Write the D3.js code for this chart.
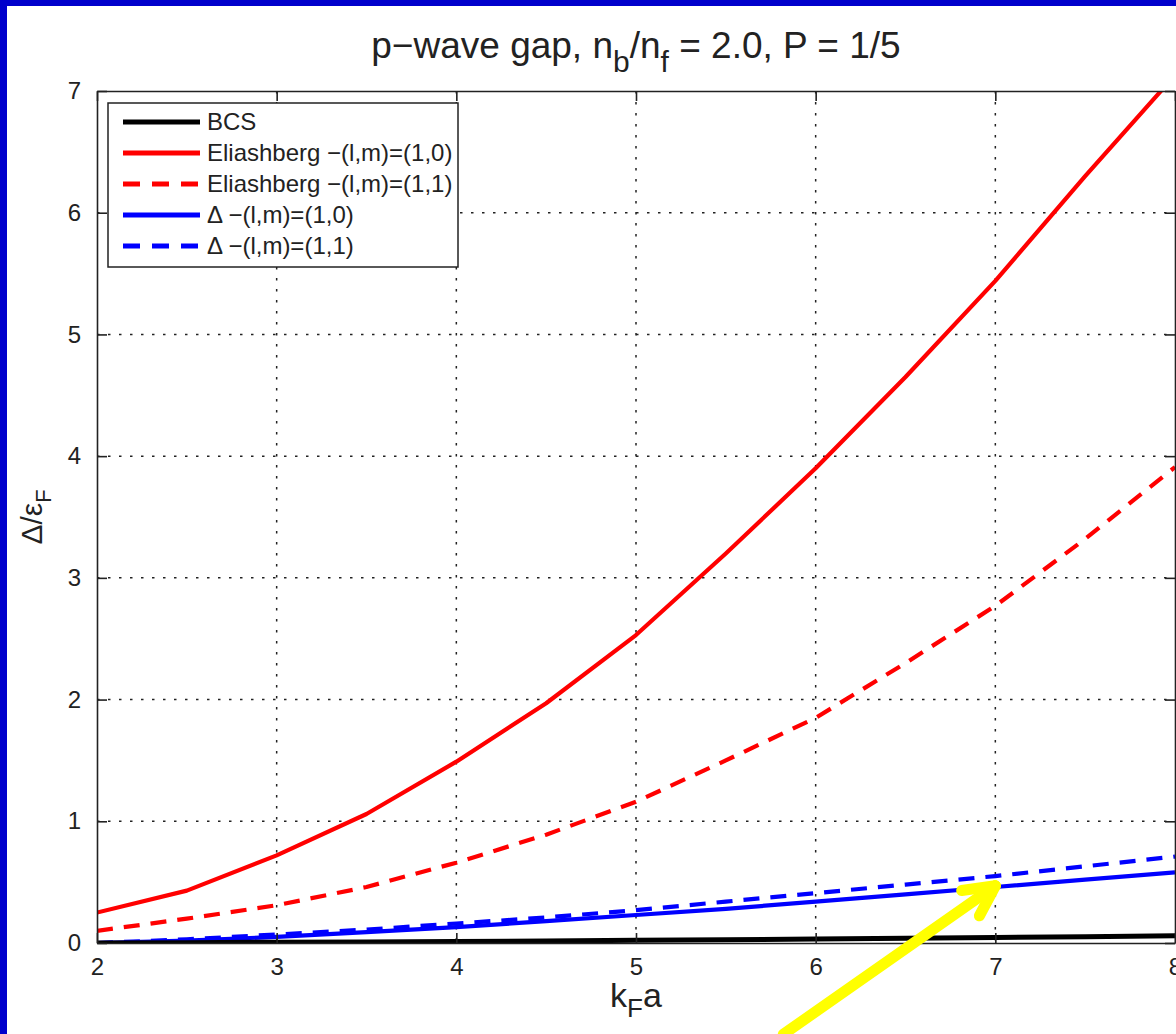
<!DOCTYPE html>
<html>
<head>
<meta charset="utf-8">
<script src="https://cdn.jsdelivr.net/npm/d3@7"></script>
<style>
  html, body { margin: 0; padding: 0; background: #0000CC; }
  svg { display: block; }
  text { font-family: "Liberation Sans", Arial, Helvetica, sans-serif; fill: #222; }
</style>
</head>
<body>
<svg id="chart" width="1176" height="1034"></svg>
<script>
// k_F a sample points
const kFa = [2, 2.5, 3, 3.5, 4, 4.5, 5, 5.5, 6, 6.5, 7, 7.5, 8];

// Gap Δ/ε_F for each calculation
const bcs    = [0, 0.003, 0.006, 0.009, 0.013, 0.017, 0.022, 0.027, 0.033, 0.039, 0.045, 0.052, 0.06];
const eli10  = [0.25, 0.43, 0.72, 1.06, 1.49, 1.97, 2.53, 3.2, 3.9, 4.65, 5.44, 6.3, 7.13];
const eli11  = [0.1, 0.2, 0.31, 0.46, 0.66, 0.89, 1.16, 1.5, 1.85, 2.3, 2.77, 3.32, 3.91];
const del10  = [0, 0.02, 0.05, 0.09, 0.13, 0.18, 0.23, 0.28, 0.34, 0.40, 0.46, 0.52, 0.58];
const del11  = [0, 0.03, 0.07, 0.11, 0.16, 0.21, 0.27, 0.34, 0.41, 0.48, 0.55, 0.63, 0.71];

const seriesNames = ["BCS", "Eliashberg \u2212(l,m)=(1,0)", "Eliashberg \u2212(l,m)=(1,1)",
                     "\u0394 \u2212(l,m)=(1,0)", "\u0394 \u2212(l,m)=(1,1)"];
const seriesValues = [bcs, eli10, eli11, del10, del11];
const seriesColors = ["#000000", "#FF0000", "#FF0000", "#0000FF", "#0000FF"];
const seriesDashed = [false, false, true, false, true];

const xTicks = [2, 3, 4, 5, 6, 7, 8];
const yTicks = [0, 1, 2, 3, 4, 5, 6, 7];

// Highlight arrow pointing at the Δ (1,0) curve at k_F a = 7 (data coordinates)
const arrowTip  = [7.0, 0.47];
const arrowTail = [5.82, -0.75];

const svg = d3.select("#chart");
const W = 1176, H = 1034;

// slide background: blue border, white figure
svg.append("rect").attr("x", 0).attr("y", 0).attr("width", W).attr("height", H).attr("fill", "#0000CC");
svg.append("rect").attr("x", 7).attr("y", 6).attr("width", W - 7).attr("height", H - 6).attr("fill", "#ffffff");

const plot = { left: 97, right: 1175, top: 91, bottom: 943 };
const x = d3.scaleLinear().domain([2, 8]).range([plot.left, plot.right]);
const y = d3.scaleLinear().domain([0, 7]).range([plot.bottom, plot.top]);

svg.append("clipPath").attr("id", "plotClip")
  .append("rect").attr("x", plot.left).attr("y", plot.top)
  .attr("width", plot.right - plot.left).attr("height", plot.bottom - plot.top);

// dotted grid
const grid = svg.append("g").attr("stroke", "#222").attr("stroke-width", 1.5)
  .attr("stroke-dasharray", "2.5,8.5").attr("fill", "none");
xTicks.slice(1, -1).forEach(t => {
  grid.append("line").attr("x1", x(t)).attr("x2", x(t)).attr("y1", plot.top).attr("y2", plot.bottom);
});
yTicks.slice(1, -1).forEach(t => {
  grid.append("line").attr("x1", plot.left).attr("x2", plot.right).attr("y1", y(t)).attr("y2", y(t));
});

// curves
const line = d3.line().x((d, i) => x(kFa[i])).y(d => y(d));
const curves = svg.append("g").attr("clip-path", "url(#plotClip)");
const drawOrder = [3, 4, 1, 2, 0];
drawOrder.forEach(k => {
  curves.append("path")
    .datum(seriesValues[k])
    .attr("d", line)
    .attr("fill", "none")
    .attr("stroke", seriesColors[k])
    .attr("stroke-width", k === 0 ? 5 : 4.2)
    .attr("stroke-linejoin", "round")
    .attr("stroke-dasharray", seriesDashed[k] ? "16,11" : null);
});

// axes box with inward ticks on all sides
const axisColor = "#222";
const axisBottom = d3.axisBottom(x).tickValues(xTicks).tickSizeInner(-10).tickSizeOuter(0).tickPadding(15).tickFormat(d3.format("d"));
const axisLeft = d3.axisLeft(y).tickValues(yTicks).tickSizeInner(-10).tickSizeOuter(0).tickPadding(16).tickFormat(d3.format("d"));
const axisTop = d3.axisTop(x).tickValues(xTicks).tickSizeInner(-10).tickSizeOuter(0).tickFormat("");
const axisRight = d3.axisRight(y).tickValues(yTicks).tickSizeInner(-10).tickSizeOuter(0).tickFormat("");

function styleAxis(g) {
  g.select(".domain").attr("stroke", axisColor).attr("stroke-width", 1.6);
  g.selectAll(".tick line").attr("stroke", axisColor).attr("stroke-width", 1.6);
  g.selectAll(".tick text").attr("fill", "#222").style("font-size", "24px")
    .style("font-family", "'Liberation Sans', Arial, sans-serif");
}
svg.append("g").attr("transform", `translate(0,${plot.bottom})`).call(axisBottom).call(styleAxis);
svg.append("g").attr("transform", `translate(${plot.left},0)`).call(axisLeft).call(styleAxis);
svg.append("g").attr("transform", `translate(0,${plot.top})`).call(axisTop).call(styleAxis);
svg.append("g").attr("transform", `translate(${plot.right},0)`).call(axisRight).call(styleAxis);

// legend
const legend = svg.append("g");
legend.append("rect").attr("x", 108).attr("y", 103).attr("width", 350).attr("height", 164)
  .attr("fill", "#ffffff").attr("stroke", "#222").attr("stroke-width", 1.5);
seriesNames.forEach((name, i) => {
  const ly = 122 + i * 31;
  legend.append("line").attr("x1", 123).attr("x2", 200).attr("y1", ly).attr("y2", ly)
    .attr("stroke", seriesColors[i]).attr("stroke-width", 5)
    .attr("stroke-dasharray", seriesDashed[i] ? "17,12" : null);
  legend.append("text").attr("x", 207).attr("y", ly).attr("dy", "0.35em")
    .style("font-size", "24px").text(name);
});

// title
const title = svg.append("text").attr("x", (plot.left + plot.right) / 2).attr("y", 58)
  .attr("text-anchor", "middle").style("font-size", "37px");
title.append("tspan").text("p\u2212wave gap, n");
title.append("tspan").attr("dy", 14).style("font-size", "30px").text("b");
title.append("tspan").attr("dy", -14).text("/n");
title.append("tspan").attr("dy", 14).style("font-size", "30px").text("f");
title.append("tspan").attr("dy", -14).text(" = 2.0, P = 1/5");

// x label
const xl = svg.append("text").attr("x", (plot.left + plot.right) / 2).attr("y", 1007)
  .attr("text-anchor", "middle").style("font-size", "34px");
xl.append("tspan").text("k");
xl.append("tspan").attr("dy", 10).style("font-size", "26px").text("F");
xl.append("tspan").attr("dy", -10).text("a");

// y label
const yl = svg.append("text").attr("transform", `translate(42,${(plot.top + plot.bottom) / 2}) rotate(-90)`)
  .attr("text-anchor", "middle").style("font-size", "30px");
yl.append("tspan").text("\u0394/\u03B5");
yl.append("tspan").attr("dy", 9).style("font-size", "22px").text("F");

// yellow arrow
const tip = [x(arrowTip[0]), y(arrowTip[1])];
const tail = [x(arrowTail[0]), y(arrowTail[1])];
const ang = Math.atan2(tail[1] - tip[1], tail[0] - tip[0]);
const headLen = 34, headAng = 27 * Math.PI / 180;
const arrow = svg.append("g").attr("stroke", "#FFFF00").attr("stroke-width", 11)
  .attr("stroke-linecap", "round").attr("fill", "none");
arrow.append("line").attr("x1", tail[0]).attr("y1", tail[1]).attr("x2", tip[0]).attr("y2", tip[1]);
[-1, 1].forEach(s => {
  arrow.append("line").attr("x1", tip[0]).attr("y1", tip[1])
    .attr("x2", tip[0] + headLen * Math.cos(ang + s * headAng))
    .attr("y2", tip[1] + headLen * Math.sin(ang + s * headAng));
});
</script>
</body>
</html>
